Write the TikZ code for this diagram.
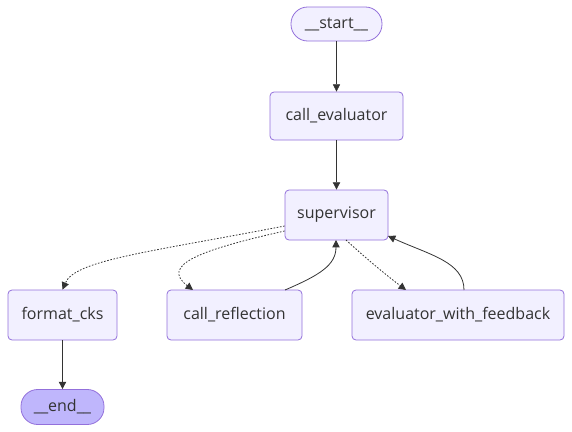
\documentclass[tikz,border=0pt]{standalone}
\usepackage{fontspec}
\setmainfont{Open Sans}
\usetikzlibrary{arrows.meta}
\definecolor{nodefill}{HTML}{F2F0FF}
\definecolor{endfill}{HTML}{BFB6FC}
\definecolor{nodeline}{HTML}{9370DB}
\definecolor{edgecol}{HTML}{333333}
\begin{document}
\begin{tikzpicture}[x=0.75pt,y=-0.75pt,
  box/.style={draw=nodeline,fill=nodefill,rounded corners=3pt,line width=0.6pt,
    inner sep=0pt,text=edgecol,font=\fontsize{12}{14}\selectfont},
  pill/.style={box,rounded corners=12.5pt},
  edge/.style={draw=edgecol,line width=0.6pt,-{Triangle[length=5.5pt,width=5.5pt]}},
  cond/.style={edge,dash pattern=on 1.2pt off 1.2pt}]
\useasboundingbox (0,0) rectangle (572,432);
\node[pill,minimum width=68.25pt,minimum height=25.5pt] (start) at (336.5,24) {\_\_start\_\_};
\node[box,minimum width=99.75pt,minimum height=36pt] (ce) at (336.5,116) {call\_evaluator};
\node[box,minimum width=77.25pt,minimum height=37.5pt] (sup) at (336.5,215) {supervisor};
\node[box,minimum width=81.75pt,minimum height=37.5pt] (fc) at (62.5,315) {format\_cks};
\node[box,minimum width=101.25pt,minimum height=37.5pt] (cr) at (234.5,315) {call\_reflection};
\node[box,minimum width=159pt,minimum height=37.5pt] (ewf) at (458,315) {evaluator\_with\_feedback};
\node[pill,fill=endfill,minimum width=62.25pt,minimum height=26.25pt] (end) at (62.5,407) {\_\_end\_\_};
\draw[edge,line width=0.45pt] (start) -- (ce);
\draw[edge] (ce) -- (sup);
\draw[cond] (sup.west |- 0,226) .. controls (150,252) and (75,260) .. (fc.north);
\draw[cond] (sup.west |- 0,231) .. controls (200,250) and (160,265) .. (193,290);
\draw[cond] (346,240) .. controls (370,262) and (390,278) .. (406,290);
\draw[edge] (285,290) .. controls (320,275) and (336,265) .. (336,240);
\draw[edge] (464,290) .. controls (464,262) and (430,255) .. (388,236);
\draw[edge] (fc) -- (end);
\end{tikzpicture}
\end{document}
